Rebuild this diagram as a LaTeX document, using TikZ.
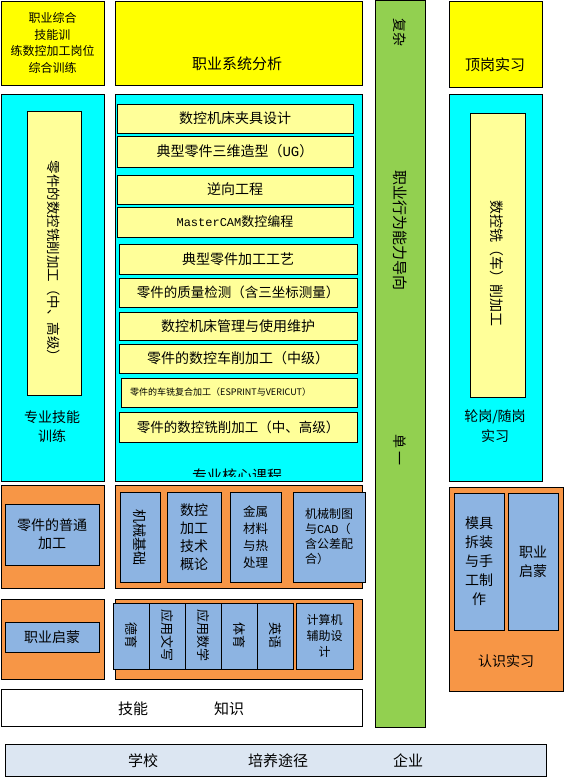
\documentclass[tikz,border=0pt]{standalone}
\usepackage{fontspec}
\setmainfont{Noto Sans CJK SC}
\newfontfamily\monof{Liberation Mono}
\newcommand\fs[2]{\fontsize{#1}{#2}\selectfont}
\definecolor{yellowT}{HTML}{FFFF00}
\definecolor{cyanT}{HTML}{00FFFF}
\definecolor{paleY}{HTML}{FFFF99}
\definecolor{orangeT}{HTML}{F79646}
\definecolor{blueT}{HTML}{8DB4E2}
\definecolor{greenT}{HTML}{92D050}
\definecolor{grayB}{HTML}{DCE6F2}
\newcommand\mybox[7]{%
  \node[box,#6,minimum width={(#4)-(#2)},minimum height={(#5)-(#3)}] (#1) at ({((#2)+(#4))/2},{((#3)+(#5))/2}) {#7};%
}
\begin{document}
\begin{tikzpicture}[x=1pt,y=-1pt,
  box/.style={draw=black,line width=0.9pt,inner sep=0pt,align=center,font=\fs{14}{18}},
  txt/.style={inner sep=0pt,align=center,font=\fs{14}{18}},
  vtxt/.style={inner sep=0pt,rotate=-90,font=\fs{14}{18}}]
\useasboundingbox (0,0) rectangle (564,777);
% top row
\mybox{topa}{1}{1}{104}{85}{fill=yellowT,font=\fs{12}{16.5}}{职业综合\\技能训\\练数控加工岗位\\综合训练}
\mybox{topb}{115}{1}{362}{85}{fill=yellowT}{}
\node[txt,font=\fs{15}{18}] (topbt) at (237,64) {职业系统分析};
\mybox{topc}{449}{1}{542}{87}{fill=yellowT}{}
\node[txt,font=\fs{15}{18}] (topct) at (495,65) {顶岗实习};
% green bar
\mybox{green}{375}{0.5}{425}{727}{fill=greenT}{}
\node[vtxt] (gt1) at (400,32) {复杂};
\node[vtxt,font=\fs{15}{18}] (gt2) at (400,230) {职业行为能力导向};
\node[vtxt] (gt3) at (400,450) {单\,一};
% left cyan
\mybox{lcyan}{1}{94}{104}{481}{fill=cyanT}{}
\mybox{lpale}{27}{111}{81}{395}{fill=paleY}{}
\node[vtxt,font=\fs{13.5}{18}] (lpalet) at (54,262) {零件的数控铣削加工（中、高级）};
\node[txt,font=\fs{14}{19}] (lcyant) at (52,427) {专业技能\\训练};
% middle cyan
\mybox{mcyan}{115}{94}{362}{481}{fill=cyanT}{}
\begin{scope}
\clip (116,95) rectangle (361,476);
\node[txt,font=\fs{15}{18}] (mcyant) at (237,476) {专业核心课程};
\end{scope}
\mybox{r1}{117}{104}{353}{133}{fill=paleY}{数控机床夹具设计}
\mybox{r2}{117}{136}{353}{167}{fill=paleY}{典型零件三维造型（{\monof UG}）}
\mybox{r3}{117}{175}{353}{204}{fill=paleY}{逆向工程}
\mybox{r4}{117}{207}{353}{237}{fill=paleY}{{\monof\fs{12}{14}MasterCAM}{\fs{13}{16}数控编程}}
\mybox{r5}{119}{244}{357}{274}{fill=paleY}{典型零件加工工艺}
\mybox{r6}{119}{278}{357}{307}{fill=paleY,font=\fs{13.5}{18}}{零件的质量检测（含三坐标测量）}
\mybox{r7}{119}{312}{357}{340}{fill=paleY}{数控机床管理与使用维护}
\mybox{r8}{119}{344}{357}{373}{fill=paleY}{零件的数控车削加工（中级）}
\mybox{r9}{121}{378}{357}{407}{fill=paleY}{}
\node[txt,anchor=west,font=\fs{9}{11}] (r9t) at (130,392.5) {零件的车铣复合加工（ESPRINT与VERICUT）};
\mybox{r10}{119}{412}{357}{442}{fill=paleY,font=\fs{13.5}{18}}{零件的数控铣削加工（中、高级）}
% right cyan
\mybox{rcyan}{449}{94}{542}{481}{fill=cyanT}{}
\mybox{rpale}{470}{113}{525}{397}{fill=paleY}{}
\node[vtxt] (rpalet) at (497,263) {数控铣（车）削加工};
\node[txt,font=\fs{14}{20}] (rcyant) at (495,426) {轮岗/随岗\\实习};
% orange row 1
\mybox{lo1}{1}{485}{104}{588}{fill=orangeT}{}
\mybox{lb1}{5}{504}{99}{565}{fill=blueT}{零件的普通\\加工}
\mybox{mo1}{115}{485}{362}{588}{fill=orangeT}{}
\mybox{mb1}{120}{492}{160}{582}{fill=blueT}{}
\node[vtxt] (mb1t) at (140,537) {机械基础};
\mybox{mb2}{167}{492}{221}{582}{fill=blueT}{数控\\加工\\技术\\概论}
\mybox{mb3}{230}{492}{281}{582}{fill=blueT,font=\fs{12.5}{17}}{金属\\材料\\与热\\处理}
\mybox{mb4}{293}{492}{365}{582}{fill=blueT}{}
\node[txt,align=left,font=\fs{12}{15}] (mb4t) at (329,537) {机械制图\\与{\monof CAD}（\\含公差配\\合）};
% orange row 2
\mybox{lo2}{1}{599}{104}{679}{fill=orangeT}{}
\mybox{lb2}{5}{622}{99}{652}{fill=blueT}{职业启蒙}
\mybox{mo2}{115}{599}{362}{679}{fill=orangeT}{}
\mybox{k1}{113}{603}{149}{669}{fill=blueT}{}
\node[vtxt,font=\fs{13}{16}] (k1t) at (131,635) {德育};
\mybox{k2}{149}{603}{185}{669}{fill=blueT}{}
\node[vtxt,font=\fs{13}{16}] (k2t) at (167,635) {应用文写};
\mybox{k3}{185}{603}{221}{669}{fill=blueT}{}
\node[vtxt,font=\fs{13}{16}] (k3t) at (203,635) {应用数学};
\mybox{k4}{221}{603}{257}{669}{fill=blueT}{}
\node[vtxt,font=\fs{13}{16}] (k4t) at (239,635) {体育};
\mybox{k5}{257}{603}{293}{669}{fill=blueT}{}
\node[vtxt,font=\fs{13}{16}] (k5t) at (275,635) {英语};
\mybox{k6}{296}{603}{353}{669}{fill=blueT,font=\fs{12}{16}}{计算机\\辅助设\\计}
% right orange
\mybox{ro}{449}{487}{563}{691}{fill=orangeT}{}
\mybox{rb1}{454}{493}{504}{630}{fill=blueT,font=\fs{14}{19}}{模具\\拆装\\与手\\工制\\作}
\mybox{rb2}{508}{493}{558}{630}{fill=blueT,font=\fs{14}{19}}{职业\\启蒙}
\node[txt] (rot) at (506,661) {认识实习};
% bottom boxes
\mybox{skill}{1}{689}{362}{726}{fill=white}{}
\node[txt,font=\fs{15}{18}] (skill1) at (133,709) {技能};
\node[txt,font=\fs{15}{18}] (skill2) at (229,709) {知识};
\mybox{path}{5}{744}{546}{776}{fill=grayB}{}
\node[txt,font=\fs{15}{18}] (path1) at (143,761) {学校};
\node[txt,font=\fs{15}{18}] (path2) at (278,761) {培养途径};
\node[txt,font=\fs{15}{18}] (path3) at (408,761) {企业};
\end{tikzpicture}
\end{document}
